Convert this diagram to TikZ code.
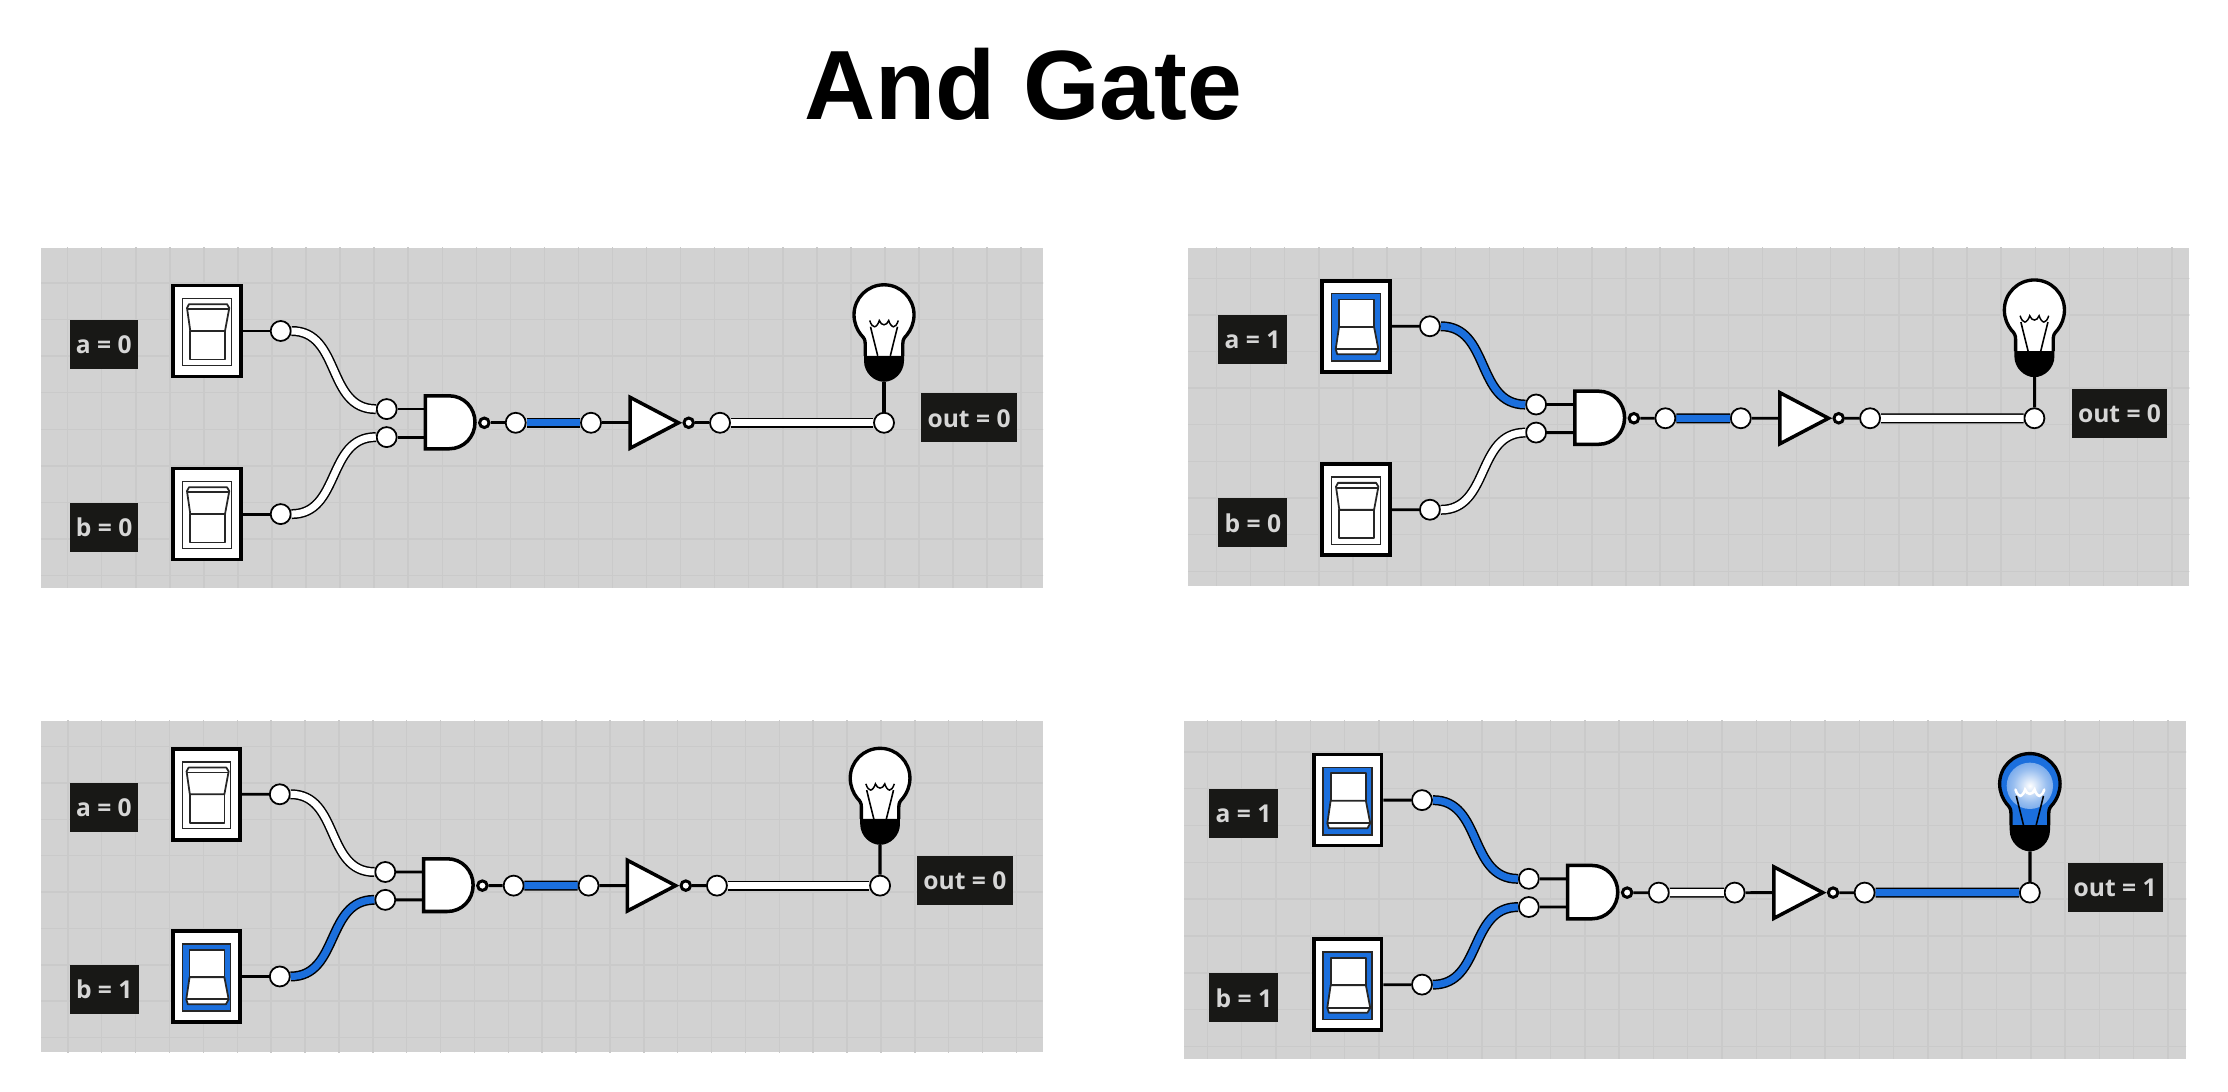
\documentclass[tikz,border=0pt]{standalone}
\usepackage{fontspec}
\newfontfamily\labelfont{Open Sans}
\newfontfamily\titlefont{Liberation Sans}
\definecolor{panelgray}{HTML}{D2D2D2}
\definecolor{gridgray}{HTML}{CACACA}
\definecolor{tagblack}{HTML}{181816}
\definecolor{tagtext}{HTML}{D6D6D6}
\definecolor{wireblue}{HTML}{1B6FDD}
\pgfdeclareradialshading{bulbglow}{\pgfpointorigin}{color(0bp)=(white); color(18bp)=(white!55!wireblue); color(50bp)=(wireblue)}
\tikzset{
gridline/.style={draw=gridgray,line width=0.42pt},
tag/.style={fill=tagblack,text=tagtext,font=\labelfont\bfseries\fontsize{7}{8}\selectfont,
  inner xsep=1.75pt,inner ysep=0pt,minimum height=0.49cm,text height=5.3pt,text depth=0pt,anchor=west},
switchbox/.style={draw=black,fill=white,line width=1.05pt,inner sep=0pt,minimum width=0.675cm,minimum height=0.91cm},
rim/.style={draw=black!85,line width=0.45pt},
rockerline/.style={draw=black!85,fill=white,line width=0.5pt,line join=round},
pin/.style={circle,draw=black,fill=white,line width=0.5pt,inner sep=0pt,minimum size=0.2cm},
bubble/.style={circle,draw=black,fill=white,line width=0.85pt,inner sep=0pt,minimum size=0.095cm},
stub/.style={draw=black,line width=0.8pt},
body/.style={draw=black,fill=white,line width=1pt,line join=miter},
wire0/.style={draw=black,line width=0.42pt,double=white,double distance=2pt},
wire1/.style={draw=black,line width=0.42pt,double=wireblue,double distance=2pt},
}
\newcommand{\rocker}[3]{
\begin{scope}[shift={(#1,#2)}]
\ifnum#3=1
\draw[rim,fill=wireblue] (-24.3,-32.5) rectangle (24.3,34.5);
\draw[rockerline] (-17,-26.7) rectangle (18,0.7);
\draw[rockerline] (-17,0.7) -- (-20.3,23) -- (-18.7,28) -- (19.5,28) -- (22.3,23) -- (18,0.7) -- cycle;
\draw[rockerline] (-20.3,23) -- (22.3,23);
\else
\draw[rim,fill=white] (-24.3,-32.5) rectangle (24.3,34.5);
\draw[rockerline] (-16.7,0) rectangle (18,28.5);
\draw[rockerline] (-16.7,0) -- (-20,-23) -- (-18,-26.8) -- (20,-26.8) -- (22.3,-23) -- (18,0) -- cycle;
\draw[rockerline] (-20,-22) -- (22.3,-22);
\fi
\end{scope}
}
\newcommand{\bulboutline}{(-18.8,41) -- (-18.8,29) .. controls (-18.8,25) and (-20,23) .. (-23,20)
  .. controls (-27,15) and (-30,8) .. (-30,0) .. controls (-30,-16.6) and (-16.6,-30) .. (0,-30)
  .. controls (16.6,-30) and (30,-16.6) .. (30,0) .. controls (30,8) and (27,15) .. (23,20)
  .. controls (20,23) and (18.8,25) .. (18.8,29) -- (18.8,41)}
\newcommand{\filament}{(-14.3,5.7) .. controls (-13,10) and (-11,12) .. (-9.5,12)
  .. controls (-8,12) and (-5.5,9) .. (-4.7,5.7) .. controls (-4,8.5) and (-1.5,10) .. (0,10)
  .. controls (1.5,10) and (4,8.5) .. (4.7,5.7) .. controls (5.5,9) and (8,12) .. (9.5,12)
  .. controls (11,12) and (13,10) .. (14.3,5.7)}
\newcommand{\bulb}[3]{
\begin{scope}[shift={(#1,#2)}]
\ifnum#3=1
\fill[wireblue] \bulboutline -- cycle;
\shade[shading=bulbglow] (0,2) circle (23);
\draw[white,line width=0.72pt,line cap=round] \filament;
\else
\fill[white] \bulboutline -- cycle;
\draw[black,line width=0.42pt] \filament;
\fi
\draw[black,line width=0.45pt] (-13.5,12) -- (-6.3,41) (13.5,12) -- (6.3,41);
\draw[black,line width=0.95pt] \bulboutline;
\fill[black] (-20,41) -- (20,41) -- (20,46) .. controls (20,58) and (10,67) .. (0,67)
  .. controls (-10,67) and (-20,58) .. (-20,46) -- cycle;
\end{scope}
}

\begin{document}
\begin{tikzpicture}[x=0.01cm,y=-0.01cm]
\useasboundingbox (0,0) rectangle (2228,1092);
\fill[white] (0,0) rectangle (2228,1092);
\node[font=\titlefont\bfseries\fontsize{28}{30}\selectfont,anchor=base] (title) at (1023.5,120) {And Gate};
\foreach \p/\ax/\ay/\bx/\by/\ox/\oy/\zm/\sa/\sb/\sn/\so in {
  p/41/247.7/1043/587.7/41/247.8/1/0/0/1/0,
  q/1188/247.7/2189.3/585.7/1189.7/242.9/1.002/1/0/1/0,
  r/41/720.7/1042.7/1052.4/41.3/711.5/0.995/0/1/1/0,
  s/1184/720.7/2186/1058.7/1180.5/716.3/1.0075/1/1/0/1}
{
\fill[panelgray] (\ax,\ay) rectangle (\bx,\by);
\begin{scope}
\clip (\ax,\ay) rectangle (\bx,\by);
\begin{scope}[shift={(\ox,\oy)},scale=\zm]
\foreach \g in {0,...,29}
\draw[gridline] (26.7+34.05*\g,-20) -- (26.7+34.05*\g,370);
\foreach \g in {0,...,9}
\draw[gridline] (-20,35.3+36.55*\g) -- (1030,35.3+36.55*\g);
\end{scope}
\end{scope}
\begin{scope}[shift={(\ox,\oy)},scale=\zm]
\node[tag] (\p-taga) at (28,96.5) {a = \sa};
\node[tag] (\p-tagb) at (28,279.5) {b = \sb};
\node[tag] (\p-tago) at (879.7,170) {out = \so};
\node[switchbox] (\p-swa) at (166,83.2) {};
\node[switchbox] (\p-swb) at (166,266.3) {};
\rocker{166}{83.2}{\sa}
\rocker{166}{266.3}{\sb}
\node[pin] (\p-pa) at (239.7,83.2) {};
\node[pin] (\p-pb) at (239.7,266.3) {};
\node[pin] (\p-ia) at (345.7,161.3) {};
\node[pin] (\p-ib) at (345.7,189.3) {};
\draw[body] (384.3,148) -- (408,148) .. controls (423,148) and (434,160) .. (434,174.5)
  .. controls (434,189) and (423,201) .. (408,201) -- (384.3,201) -- cycle;
\coordinate (\p-ga) at (384.3,161.3);
\coordinate (\p-gb) at (384.3,189.3);
\node[bubble] (\p-nb) at (443.3,175) {};
\node[pin] (\p-na) at (474.7,175) {};
\node[pin] (\p-nc) at (550,175) {};
\draw[body] (589,149.5) -- (637.5,175) -- (589,200.5) -- cycle;
\coordinate (\p-nl) at (589,175);
\node[bubble] (\p-vb) at (647.7,175) {};
\node[pin] (\p-oa) at (679,175) {};
\node[pin] (\p-oc) at (843,175) {};
\bulb{843}{67}{\so}
\coordinate (\p-lamp) at (843,134);
\draw[stub] (\p-swa) -- (\p-pa);
\draw[stub] (\p-swb) -- (\p-pb);
\draw[stub] (\p-ia) -- (\p-ga);
\draw[stub] (\p-ib) -- (\p-gb);
\draw[stub] (\p-nb) -- (\p-na);
\draw[stub] (\p-nc) -- (\p-nl);
\draw[stub] (\p-vb) -- (\p-oa);
\draw[stub,line width=0.9pt] (\p-oc) -- (\p-lamp);
\draw[wire\sa] (\p-pa) to[out=0,in=180,looseness=1.1] (\p-ia);
\draw[wire\sb] (\p-pb) to[out=0,in=180,looseness=1.1] (\p-ib);
\draw[wire\sn] (\p-na) -- (\p-nc);
\draw[wire\so] (\p-oa) -- (\p-oc);
\end{scope}
}
\end{tikzpicture}
\end{document}
